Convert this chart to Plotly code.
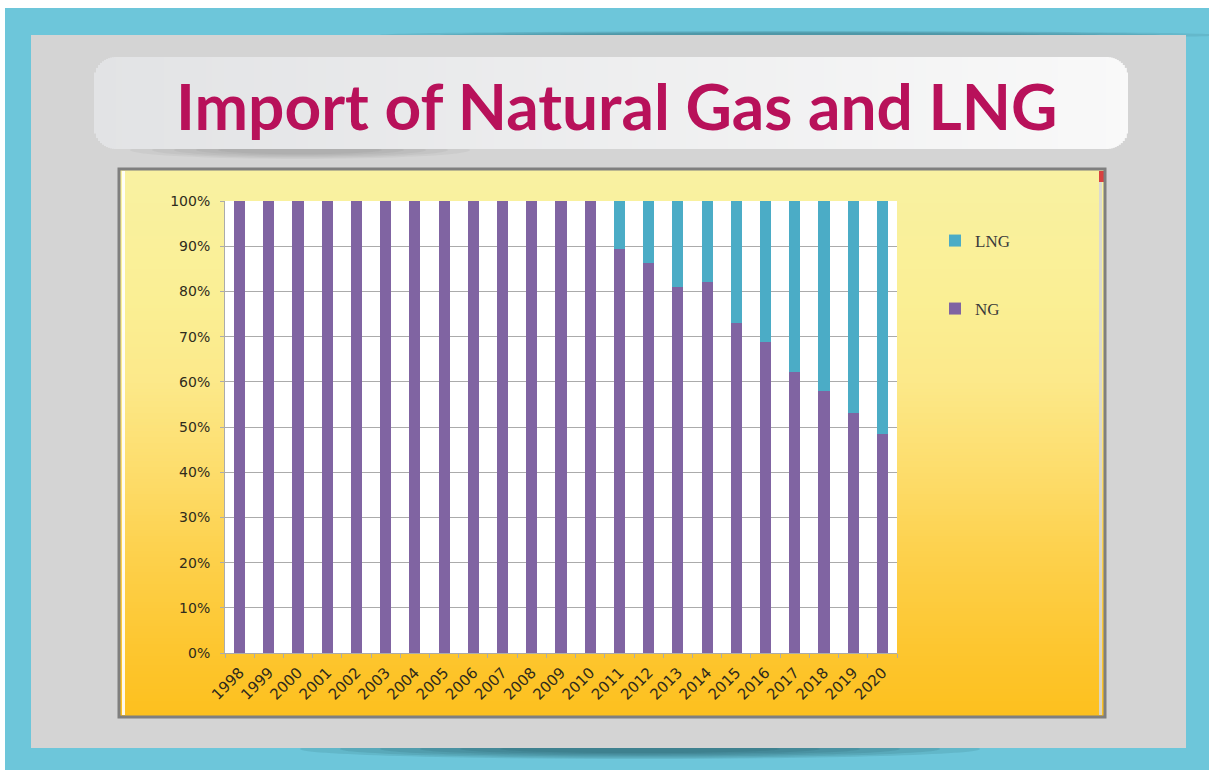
import plotly.graph_objects as go

W, H = 1209, 770

# ---- data: share of imports by type, in percent ----
years = ["1998", "1999", "2000", "2001", "2002", "2003", "2004", "2005",
         "2006", "2007", "2008", "2009", "2010", "2011", "2012", "2013",
         "2014", "2015", "2016", "2017", "2018", "2019", "2020"]
ng_share = [100, 100, 100, 100, 100, 100, 100, 100, 100, 100, 100, 100, 100,
            89.3, 86.2, 80.9, 82.1, 73.1, 68.7, 62.2, 58.0, 53.0, 48.4]
lng_share = [0, 0, 0, 0, 0, 0, 0, 0, 0, 0, 0, 0, 0,
             10.7, 13.8, 19.1, 17.9, 26.9, 31.3, 37.8, 42.0, 47.0, 51.6]

NG_COLOR = "#8064A2"
LNG_COLOR = "#4BACC6"
TEXT_COLOR = "#2f2b1c"
GRID_COLOR = "#ABABAB"


def px(x):
    return x / W


def py(y):
    return 1 - y / H


def lerp(c0, c1, t):
    return tuple(round(a + (b - a) * t) for a, b in zip(c0, c1))


def rgb(c):
    return "rgb(%d,%d,%d)" % c


def rect(x0, y0, x1, y1, fill, line_color=None, line_width=0, opacity=1.0):
    return dict(type="rect", xref="paper", yref="paper", layer="below",
                x0=px(x0), x1=px(x1), y0=py(y1), y1=py(y0),
                fillcolor=fill, opacity=opacity,
                line=dict(width=line_width, color=line_color or "rgba(0,0,0,0)"))


def ellipse(cx, cy, rx, ry, fill):
    return dict(type="circle", xref="paper", yref="paper", layer="below",
                x0=px(cx - rx), x1=px(cx + rx), y0=py(cy + ry), y1=py(cy - ry),
                fillcolor=fill, line=dict(width=0))


shapes = []

# page frame: cyan border and grey panel with soft shadows
shapes.append(rect(5, 8, W, H, "#6DC6DA"))
for i in range(6):
    shapes.append(ellipse(640, 749, 340 - i * 40, 10 - i * 1.2, "rgba(25,70,80,0.12)"))
for i in range(4):
    shapes.append(ellipse(800, 35, 420 - i * 60, 4 - i * 0.6, "rgba(25,70,80,0.10)"))
shapes.append(rect(31, 35, 1186, 748, "#D4D4D4"))

# title box: rounded rectangle with a light horizontal gradient
for i in range(5):
    shapes.append(ellipse(300, 150, 170 - i * 22, 9 - i * 1.2, "rgba(0,0,0,0.035)"))
bx0, bx1, by0, by1, rad = 94, 1128, 57, 149, 22
left_c, right_c = (226, 227, 229), (249, 249, 249)
x = bx0
while x < bx1:
    step = 2 if (x < bx0 + rad or x >= bx1 - rad) else 6
    xe = min(x + step, bx1)
    xm = (x + xe) / 2
    d = min(xm - bx0, bx1 - xm)
    inset = 0.0
    if d < rad:
        inset = rad - (rad ** 2 - (rad - d) ** 2) ** 0.5
    col = lerp(left_c, right_c, (xm - bx0) / (bx1 - bx0))
    shapes.append(rect(x, by0 + inset, min(xe + 0.8, bx1), by1 - inset, rgb(col)))
    x = xe

# chart frame with a vertical yellow-to-amber gradient
stops = [(170, (249, 241, 162)), (300, (250, 239, 148)), (380, (252, 233, 138)),
         (470, (253, 221, 108)), (560, (253, 208, 74)), (650, (253, 198, 47)),
         (716, (253, 192, 30))]
fx0, fx1, fy0, fy1 = 120, 1104, 170, 716
y = fy0
while y < fy1:
    ye = min(y + 3, fy1)
    ym = (y + ye) / 2
    for (s0, c0), (s1, c1) in zip(stops[:-1], stops[1:]):
        if s0 <= ym <= s1:
            col = lerp(c0, c1, (ym - s0) / (s1 - s0))
            break
    shapes.append(rect(fx0, y, fx1, min(ye + 0.8, fy1), rgb(col)))
    y = ye
shapes.append(rect(122, 171, 125, 715, "rgba(255,255,255,0.9)"))
shapes.append(rect(1099, 171, 1102, 715, "rgba(215,215,215,0.9)"))
shapes.append(rect(1099, 171, 1104, 182, "#D9413F"))
shapes.append(rect(119, 169, 1105, 717, "rgba(0,0,0,0)", "#7F7F7F", 3))

# white plotting area
shapes.append(dict(type="rect", xref="x domain", yref="y domain", layer="below",
                   x0=0, x1=1, y0=0, y1=1, fillcolor="white", line=dict(width=0)))

fig = go.Figure()
fig.add_trace(go.Bar(name="NG", x=years, y=ng_share, marker_color=NG_COLOR,
                     marker_line_width=0, legend="legend2"))
fig.add_trace(go.Bar(name="LNG", x=years, y=lng_share, marker_color=LNG_COLOR,
                     marker_line_width=0, legend="legend"))

legend_style = dict(xanchor="left", yanchor="middle", bgcolor="rgba(0,0,0,0)",
                    font=dict(family="Liberation Serif", size=17, color="#3a3a3a"))

fig.update_layout(
    width=W, height=H, autosize=False,
    margin=dict(l=0, r=0, t=0, b=0, autoexpand=False),
    paper_bgcolor="white", plot_bgcolor="white",
    barmode="stack", bargap=0.62,
    shapes=shapes,
    showlegend=True,
    legend=dict(x=px(935), y=py(241), **legend_style),
    legend2=dict(x=px(935), y=py(309), visible=True, **legend_style),
    xaxis=dict(domain=[px(225), px(897)], type="category", automargin=False,
               tickangle=-45, tickson="boundaries", ticks="outside", ticklen=4,
               tickcolor=GRID_COLOR, showline=True, linecolor=GRID_COLOR,
               showgrid=False, ticklabelstandoff=4,
               tickfont=dict(family="DejaVu Sans", size=15, color=TEXT_COLOR)),
    yaxis=dict(domain=[py(653), py(201)], range=[0, 100], dtick=10, automargin=False,
               ticksuffix="%", ticks="outside", ticklen=4, tickcolor=GRID_COLOR,
               showline=True, linecolor=GRID_COLOR, gridcolor=GRID_COLOR, gridwidth=1,
               zeroline=False, ticklabelstandoff=7,
               tickfont=dict(family="DejaVu Sans", size=14, color=TEXT_COLOR)),
    annotations=[dict(text="<b>Import of Natural Gas and LNG</b>", xref="paper", yref="paper",
                      x=px(617), y=py(106), xanchor="center", yanchor="middle",
                      showarrow=False,
                      font=dict(family="Lato", size=64, color="#B8115A"))],
)

fig.write_html("out.html")
